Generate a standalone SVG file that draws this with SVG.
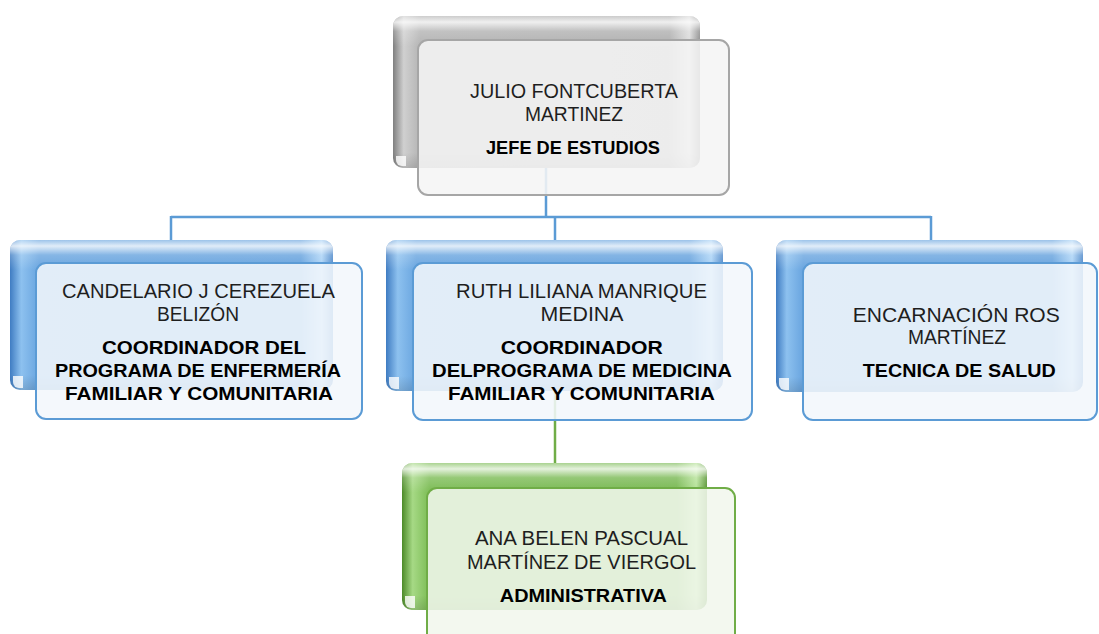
<svg xmlns="http://www.w3.org/2000/svg" width="1099" height="634" viewBox="0 0 1099 634">
<defs>
<linearGradient id="gBlueH" x1="0" y1="0" x2="1" y2="0">
<stop offset="0" stop-color="#3f7cc2"/><stop offset="0.035" stop-color="#8dc1ef"/><stop offset="0.09" stop-color="#68a4df"/><stop offset="0.9" stop-color="#64a1dd"/><stop offset="0.965" stop-color="#a9d2f6"/><stop offset="1" stop-color="#4a86c9"/>
</linearGradient>
<linearGradient id="gGrayH" x1="0" y1="0" x2="1" y2="0">
<stop offset="0" stop-color="#7f7f7f"/><stop offset="0.035" stop-color="#d0d0d0"/><stop offset="0.09" stop-color="#b3b3b3"/><stop offset="0.9" stop-color="#afafaf"/><stop offset="0.965" stop-color="#dcdcdc"/><stop offset="1" stop-color="#8a8a8a"/>
</linearGradient>
<linearGradient id="gGreenH" x1="0" y1="0" x2="1" y2="0">
<stop offset="0" stop-color="#4c8a28"/><stop offset="0.035" stop-color="#a6d985"/><stop offset="0.09" stop-color="#7cbc55"/><stop offset="0.9" stop-color="#78b852"/><stop offset="0.965" stop-color="#b5e297"/><stop offset="1" stop-color="#55932f"/>
</linearGradient>
<linearGradient id="gShine" x1="0" y1="0" x2="0" y2="1">
<stop offset="0" stop-color="#ffffff" stop-opacity="0.35"/><stop offset="0.04" stop-color="#ffffff" stop-opacity="0.8"/><stop offset="0.1" stop-color="#ffffff" stop-opacity="0.2"/><stop offset="0.2" stop-color="#ffffff" stop-opacity="0"/><stop offset="0.9" stop-color="#000000" stop-opacity="0"/><stop offset="1" stop-color="#000000" stop-opacity="0.12"/>
</linearGradient>
</defs>
<style>
.shine{fill:url(#gShine);}
.fb{fill:#f3f7fc;fill-opacity:0.88;stroke:#5b9bd5;stroke-width:2;}
.fg{fill:#f5f5f5;fill-opacity:0.88;stroke:#a6a6a6;stroke-width:2;}
.fgr{fill:#f1f7ed;fill-opacity:0.88;stroke:#70ad47;stroke-width:2;}
.notch{fill:#ffffff;fill-opacity:0.8;}
.nm{font-family:"Liberation Sans",Arial,sans-serif;font-size:20px;fill:#1e1e1e;text-anchor:middle;}
.tt{font-family:"Liberation Sans",Arial,sans-serif;font-size:19px;font-weight:bold;fill:#000000;text-anchor:middle;}
.cb{fill:none;stroke:#5b9bd5;stroke-width:2.5;}
.cg{fill:none;stroke:#70ad47;stroke-width:2.5;}
</style>
<g id="connectors">
<path class="cb" d="M546 168 V217 M171 217 H931 M171 216 V241 M555 217 V241 M931 216 V241"/>
<path class="cg" d="M555 392 V464"/>
</g>
<g id="node-jefe">
<rect x="393" y="16" width="307" height="152" rx="10" fill="url(#gGrayH)"/>
<rect x="393" y="16" width="307" height="152" rx="10" class="shine"/>
<path class="notch" d="M396 156 h10 v10 h-4 a6 6 0 0 1 -6 -6 z"/>
<rect x="418" y="40" width="311" height="155" rx="10" class="fg"/>
<text class="nm" x="574" y="98" textLength="208" lengthAdjust="spacingAndGlyphs">JULIO FONTCUBERTA</text>
<text class="nm" x="574" y="121" textLength="98" lengthAdjust="spacingAndGlyphs">MARTINEZ</text>
<text class="tt" x="573" y="154" textLength="174" lengthAdjust="spacingAndGlyphs">JEFE DE ESTUDIOS</text>
</g>
<g id="node-candelario">
<rect x="10" y="240" width="323" height="150" rx="10" fill="url(#gBlueH)"/>
<rect x="10" y="240" width="323" height="150" rx="10" class="shine"/>
<path class="notch" d="M13 376 h10 v12 h-4 a6 6 0 0 1 -6 -6 z"/>
<rect x="36" y="263" width="326" height="156" rx="10" class="fb"/>
<text class="nm" x="198.5" y="298" textLength="273" lengthAdjust="spacingAndGlyphs">CANDELARIO J CEREZUELA</text>
<text class="nm" x="198" y="321" textLength="82" lengthAdjust="spacingAndGlyphs">BELIZÓN</text>
<text class="tt" x="204" y="354" textLength="204" lengthAdjust="spacingAndGlyphs">COORDINADOR DEL</text>
<text class="tt" x="198" y="377" textLength="286" lengthAdjust="spacingAndGlyphs">PROGRAMA DE ENFERMERÍA</text>
<text class="tt" x="199" y="400" textLength="268" lengthAdjust="spacingAndGlyphs">FAMILIAR Y COMUNITARIA</text>
</g>
<g id="node-ruth">
<rect x="386" y="240" width="337" height="151" rx="10" fill="url(#gBlueH)"/>
<rect x="386" y="240" width="337" height="151" rx="10" class="shine"/>
<path class="notch" d="M389 377 h10 v12 h-4 a6 6 0 0 1 -6 -6 z"/>
<rect x="413" y="263" width="339" height="157" rx="10" class="fb"/>
<text class="nm" x="581.5" y="298" textLength="251" lengthAdjust="spacingAndGlyphs">RUTH LILIANA MANRIQUE</text>
<text class="nm" x="582" y="321" textLength="83" lengthAdjust="spacingAndGlyphs">MEDINA</text>
<text class="tt" x="581.7" y="354" textLength="162" lengthAdjust="spacingAndGlyphs">COORDINADOR</text>
<text class="tt" x="582" y="377" textLength="300" lengthAdjust="spacingAndGlyphs">DELPROGRAMA DE MEDICINA</text>
<text class="tt" x="581.5" y="400" textLength="267" lengthAdjust="spacingAndGlyphs">FAMILIAR Y COMUNITARIA</text>
</g>
<g id="node-encarnacion">
<rect x="776" y="240" width="307" height="152" rx="10" fill="url(#gBlueH)"/>
<rect x="776" y="240" width="307" height="152" rx="10" class="shine"/>
<path class="notch" d="M779 378 h10 v12 h-4 a6 6 0 0 1 -6 -6 z"/>
<rect x="803" y="263" width="294" height="157" rx="10" class="fb"/>
<text class="nm" x="956.3" y="322" textLength="207" lengthAdjust="spacingAndGlyphs">ENCARNACIÓN ROS</text>
<text class="nm" x="957" y="344" textLength="98" lengthAdjust="spacingAndGlyphs">MARTÍNEZ</text>
<text class="tt" x="959.3" y="377" textLength="193" lengthAdjust="spacingAndGlyphs">TECNICA DE SALUD</text>
</g>
<g id="node-ana">
<rect x="402" y="463" width="305" height="147" rx="10" fill="url(#gGreenH)"/>
<rect x="402" y="463" width="305" height="147" rx="10" class="shine"/>
<path class="notch" d="M405 596 h10 v12 h-4 a6 6 0 0 1 -6 -6 z"/>
<rect x="427" y="488" width="308" height="165" rx="10" class="fgr"/>
<text class="nm" x="581.5" y="545" textLength="213" lengthAdjust="spacingAndGlyphs">ANA BELEN PASCUAL</text>
<text class="nm" x="581.5" y="569" textLength="229" lengthAdjust="spacingAndGlyphs">MARTÍNEZ DE VIERGOL</text>
<text class="tt" x="583.3" y="602" textLength="167" lengthAdjust="spacingAndGlyphs">ADMINISTRATIVA</text>
</g>
</svg>
